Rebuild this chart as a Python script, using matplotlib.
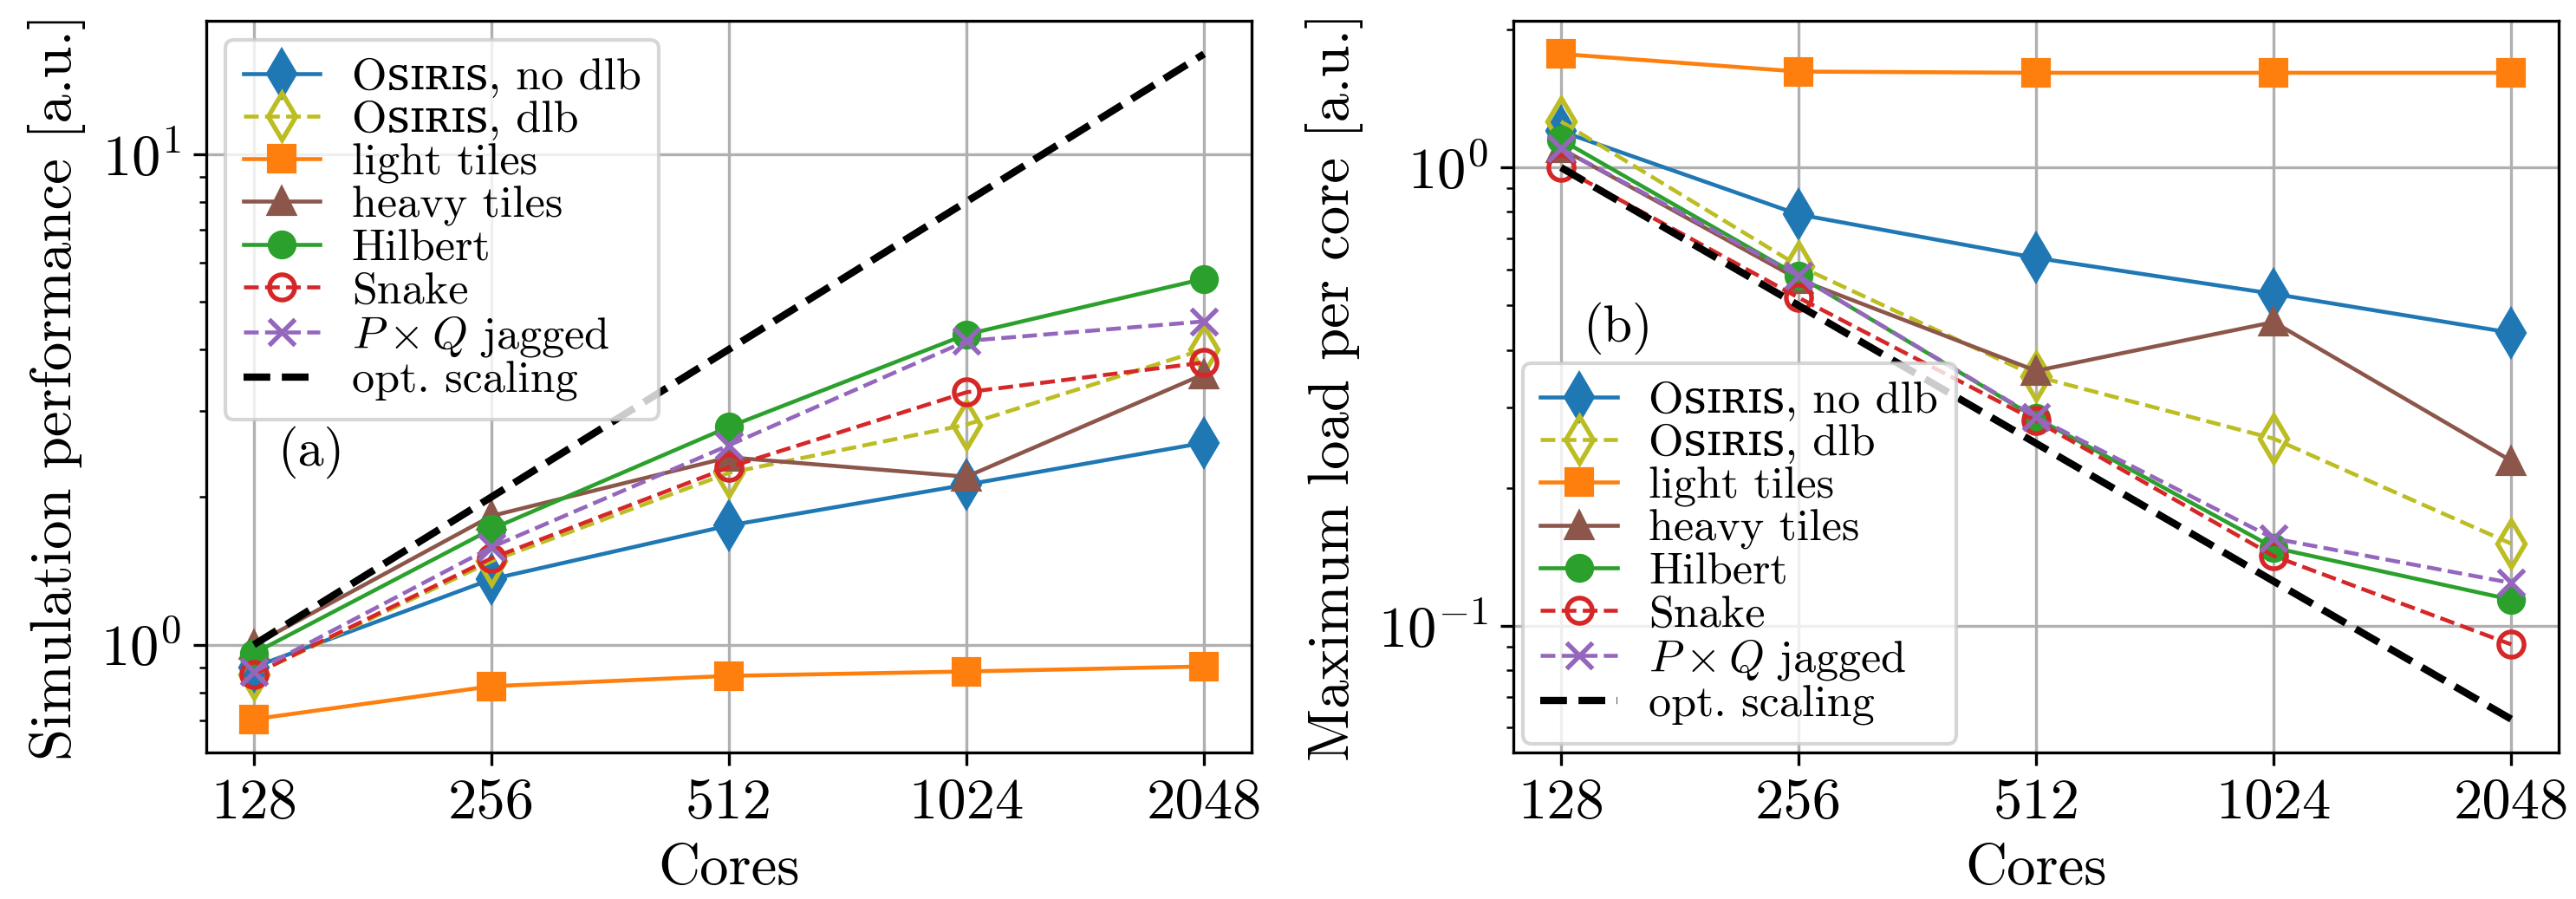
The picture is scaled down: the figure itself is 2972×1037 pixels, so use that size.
import matplotlib
matplotlib.use("Agg")
import matplotlib.pyplot as plt
from matplotlib.ticker import NullFormatter, FixedLocator, NullLocator

plt.rcParams['font.family'] = ['cmr10', 'DejaVu Serif', 'DejaVu Sans']
plt.rcParams['mathtext.fontset'] = 'cm'
plt.rcParams['axes.formatter.use_mathtext'] = True
plt.rcParams['font.size'] = 16

# number of cores (x axis)
cores = [128, 256, 512, 1024, 2048]
core_labels = ["128", "256", "512", "1024", "2048"]

# (a) simulation performance [a.u.]
perf_nodlb = [0.90, 1.36, 1.75, 2.12, 2.58]
perf_dlb = [0.87, 1.48, 2.24, 2.81, 4.00]
perf_light = [0.705, 0.823, 0.864, 0.882, 0.903]
perf_heavy = [1.00, 1.83, 2.41, 2.20, 3.56]
perf_hilbert = [0.96, 1.72, 2.78, 4.29, 5.57]
perf_snake = [0.87, 1.50, 2.30, 3.27, 3.76]
perf_pxq = [0.88, 1.58, 2.55, 4.16, 4.56]
perf_opt = [1.0, 2.0, 4.0, 8.0, 16.0]

# (b) maximum load per core [a.u.]
load_nodlb = [1.20, 0.79, 0.635, 0.53, 0.436]
load_dlb = [1.26, 0.61, 0.35, 0.256, 0.151]
load_light = [1.77, 1.62, 1.61, 1.61, 1.61]
load_heavy = [1.10, 0.57, 0.36, 0.46, 0.229]
load_hilbert = [1.15, 0.58, 0.284, 0.148, 0.114]
load_snake = [1.00, 0.52, 0.28, 0.142, 0.091]
load_pxq = [1.10, 0.58, 0.285, 0.155, 0.124]
load_opt = [1.0, 0.5, 0.25, 0.125, 0.0625]

labels = ["O\uA731\u026A\u0280\u026A\uA731, no dlb", "O\uA731\u026A\u0280\u026A\uA731, dlb",
          "light tiles", "heavy tiles", "Hilbert", "Snake", r"$P\times Q$ jagged", "opt. scaling"]

ms = 7
lw = 1.1
leg_kw = dict(fontsize=12.5, labelspacing=0.05, handlelength=1.7, handletextpad=0.7)


def draw(ax, ys):
    ax.plot(cores, ys[0], color="C0", marker="d", ms=ms + 2, lw=lw, label=labels[0])
    ax.plot(cores, ys[1], color="C8", marker="d", ms=ms + 2, lw=lw, ls="--", mfc="none", mew=1.3, label=labels[1])
    ax.plot(cores, ys[2], color="C1", marker="s", ms=ms, lw=lw, label=labels[2])
    ax.plot(cores, ys[3], color="C5", marker="^", ms=ms, lw=lw, label=labels[3])
    ax.plot(cores, ys[4], color="C2", marker="o", ms=ms, lw=lw, label=labels[4])
    ax.plot(cores, ys[5], color="C3", marker="o", ms=ms, lw=lw, ls="--", mfc="none", mew=1.3, label=labels[5])
    ax.plot(cores, ys[6], color="C4", marker="x", ms=ms, lw=lw, ls="--", mew=1.3, label=labels[6])
    ax.plot(cores, ys[7], color="black", lw=2.0, ls="--", label=labels[7])
    ax.set_xscale("log", base=2)
    ax.set_yscale("log")
    ax.xaxis.set_major_locator(FixedLocator(cores))
    ax.set_xticklabels(core_labels)
    ax.xaxis.set_minor_locator(NullLocator())
    ax.yaxis.set_minor_formatter(NullFormatter())
    ax.grid(True, which="major")
    ax.set_xlabel("Cores")


fig, (ax1, ax2) = plt.subplots(1, 2, figsize=(2972 / 300, 1037 / 300), dpi=300)
fig.subplots_adjust(left=0.0801, right=0.9933, bottom=0.163, top=0.977, wspace=0.2506)

draw(ax1, [perf_nodlb, perf_dlb, perf_light, perf_heavy, perf_hilbert, perf_snake, perf_pxq, perf_opt])
ax1.set_ylabel("Simulation performance [a.u.]")
ax1.legend(loc="upper left", borderaxespad=0.42, **leg_kw)
ax1.text(0.10, 0.41, "(a)", transform=ax1.transAxes, ha="center", va="center", fontsize=14.5)

draw(ax2, [load_nodlb, load_dlb, load_light, load_heavy, load_hilbert, load_snake, load_pxq, load_opt])
ax2.set_ylabel("Maximum load per core [a.u.]")
ax2.legend(loc="lower left", borderaxespad=0.2, **leg_kw)
ax2.text(0.10, 0.58, "(b)", transform=ax2.transAxes, ha="center", va="center", fontsize=14.5)

fig.savefig("out.png", dpi=300)
